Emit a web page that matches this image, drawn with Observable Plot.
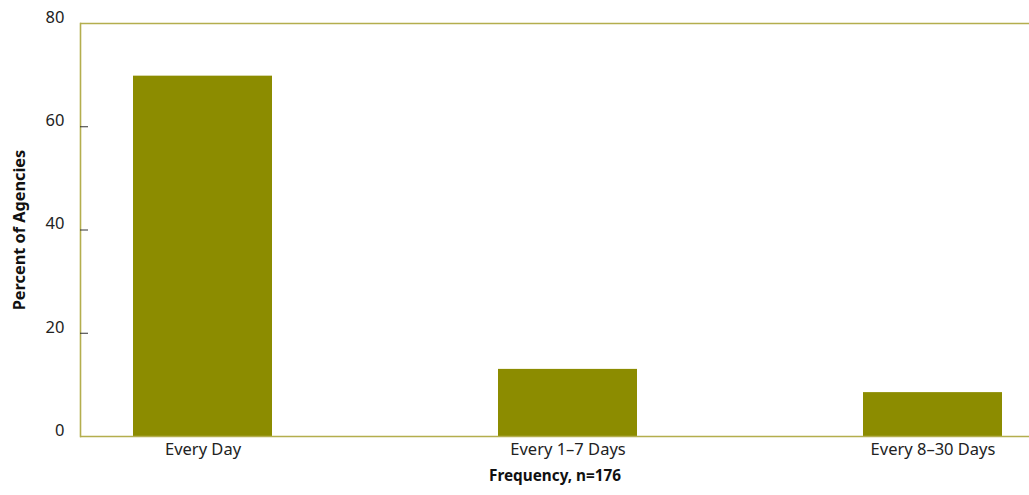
<!DOCTYPE html>
<html><head><meta charset="utf-8">
<script src="https://cdn.jsdelivr.net/npm/d3@7"></script>
<script src="https://cdn.jsdelivr.net/npm/@observablehq/plot@0.6"></script>
<style>body{margin:0;background:#fff}</style>
</head><body><div id="chart"></div>
<script>
const categories = ["Every Day", "Every 1–7 Days", "Every 8–30 Days"];
const values = [69.8, 13.0, 8.5];
const yTicks = [0, 20, 40, 60, 80];
const innerTicks = [20, 40, 60];
const xLabel = "Frequency, n=176";
const yLabel = "Percent of Agencies";

const data = categories.map((c, i) => ({category: c, value: values[i]}));
const barColor = "#8c8c00";
const lineColor = "#b4ae4e";

const chart = Plot.plot({
  width: 1029, height: 495,
  marginTop: 23, marginBottom: 59, marginLeft: 80, marginRight: 0,
  style: {fontFamily: "'Noto Sans', sans-serif", fontSize: "15px", color: "#222", background: "#fff"},
  x: {domain: categories, range: [132, 1002], paddingInner: 0.62, paddingOuter: 0, align: 0.5, label: null},
  y: {domain: [0, 80], label: null},
  marks: [
    Plot.barY(data, {x: "category", y: "value", fill: barColor}),
    Plot.ruleY([0, 80], {stroke: lineColor, strokeWidth: 1.6}),
    Plot.frame({anchor: "left", stroke: lineColor, strokeWidth: 1.6}),
    Plot.axisY({ticks: innerTicks, tickSize: -8, tickFormat: () => "", label: null, stroke: "#333"}),
    Plot.axisY({ticks: yTicks, tickSize: 0, tickPadding: 16, dy: -6, label: null, fontSize: 16.5, fill: "#222"}),
    Plot.axisX({tickSize: 0, tickPadding: 7, label: null, fontSize: 16.5, fill: "#222"}),
    Plot.text([yLabel], {frameAnchor: "left", textAnchor: "middle", lineAnchor: "middle", rotate: -90, dx: -61, fontWeight: "bold", fontSize: 16.3, fill: "#111"}),
    Plot.text([xLabel], {frameAnchor: "bottom", textAnchor: "middle", lineAnchor: "middle", dy: 40, fontWeight: "bold", fontSize: 15.3, fill: "#111"})
  ]
});
document.getElementById("chart").append(chart);
</script>
</body></html>
